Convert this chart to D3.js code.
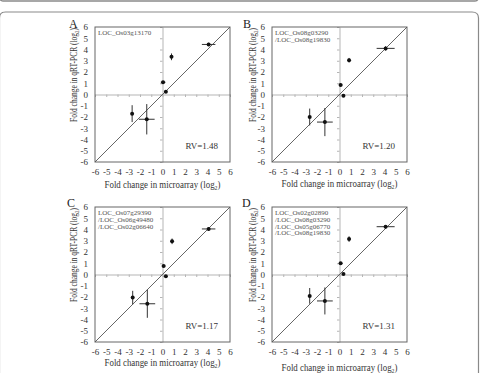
<!DOCTYPE html>
<html>
<head>
<meta charset="utf-8">
<script src="https://cdn.jsdelivr.net/npm/d3@7"></script>
<style>
  html, body { margin: 0; padding: 0; background: #fff; }
  svg { display: block; font-family: "Liberation Serif", "Times New Roman", serif; }
</style>
</head>
<body>
<div id="chart"></div>
<script>
// panel data: microarray (x) vs qRT-PCR (y), log2 fold change
const panelLetters = ["A", "B", "C", "D"];
const geneLabels = [
  ["LOC_Os03g13170"],
  ["LOC_Os08g03290", "/LOC_Os08g19830"],
  ["LOC_Os07g29390", "/LOC_Os06g49480", "/LOC_Os02g06640"],
  ["LOC_Os02g02890", "/LOC_Os08g03290", "/LOC_Os05g06770", "/LOC_Os08g19830"]
];
const rvValues = ["1.48", "1.20", "1.17", "1.31"];

const microarray = [
  [4.1, 0.8, 0.05, 0.3, -2.7, -1.4],
  [4.1, 0.85, 0.1, 0.35, -2.65, -1.3],
  [4.1, 0.85, 0.1, 0.3, -2.65, -1.35],
  [4.1, 0.85, 0.1, 0.35, -2.65, -1.3]
];
const microarrayErr = [
  [0.6, 0.1, 0.2, 0.1, 0.1, 0.7],
  [0.8, 0.1, 0.15, 0.1, 0.1, 0.7],
  [0.6, 0.1, 0.15, 0.1, 0.1, 0.7],
  [0.8, 0.1, 0.15, 0.1, 0.1, 0.7]
];
const qrtpcr = [
  [4.45, 3.35, 1.1, 0.25, -1.7, -2.2],
  [4.1, 3.05, 0.85, -0.1, -2.0, -2.45],
  [4.05, 2.95, 0.75, -0.15, -2.05, -2.6],
  [4.25, 3.15, 1.0, 0.05, -1.9, -2.35]
];
const qrtpcrErr = [
  [0.15, 0.3, 0.1, 0.1, 0.75, 1.35],
  [0.2, 0.2, 0.1, 0.1, 0.75, 1.25],
  [0.15, 0.25, 0.1, 0.1, 0.6, 1.25],
  [0.15, 0.25, 0.1, 0.1, 0.7, 1.2]
];
const tickValues = [-6, -5, -4, -3, -2, -1, 0, 1, 2, 3, 4, 5, 6];

// layout
const width = 480, height = 373;
const size = 135;
const panelPos = [[95, 27], [272, 27], [95, 207], [272, 207]];
const xTitleY = [188, 187, 366, 370.5];
const letterPos = [[-26, 1], [-29, 1], [-28, 0], [-30, 0]];
const yTitleX = [-18.5, -16, -18.5, -16];

const svg = d3.select("#chart").append("svg")
  .attr("width", width)
  .attr("height", height)
  .attr("viewBox", [0, 0, width, height]);

// frame lines of the page
svg.append("path")
  .attr("d", "M0,-10 L0,-2 Q0,1 3,1 L475,1 Q478,1 478,-2 L478,-10")
  .attr("fill", "none").attr("stroke", "#8a8a8a").attr("stroke-width", 1.5);
svg.append("path")
  .attr("d", "M-0.5,400 L-0.5,18 Q-0.5,12 5.5,12 L472,12 Q478.5,12 478.5,18 L478.5,400")
  .attr("fill", "none").attr("stroke", "#8a8a8a").attr("stroke-width", 1.2);

const x = d3.scaleLinear().domain([-6, 6]).range([0, size]);
const y = d3.scaleLinear().domain([-6, 6]).range([size, 0]);
const fmt = d => String(d); // plain hyphen minus, as in the figure

// title with subscript 2, squeezed along its length to a target width
function title(g, label, cx, cy, rotate, target, fontSize) {
  const outer = g.append("g").attr("transform", `translate(${cx},${cy}) rotate(${rotate})`);
  const t = outer.append("text")
    .attr("text-anchor", "middle").attr("font-size", fontSize).attr("fill", "#333");
  t.append("tspan").text(label + " (log");
  t.append("tspan").attr("font-size", fontSize * 0.65).attr("dy", 2).text("2");
  t.append("tspan").attr("dy", -2).text(")");
  const w = t.node().getBBox().width;
  t.attr("transform", `scale(${target / w},1)`);
}

panelLetters.forEach((letter, i) => {
  const [px, py] = panelPos[i];
  const g = svg.append("g").attr("transform", `translate(${px},${py})`);

  // zero axes with small ticks
  g.append("g")
    .attr("transform", `translate(0,${y(0)})`)
    .call(d3.axisBottom(x).tickValues(tickValues).tickSize(2.5).tickFormat("").tickSizeOuter(0))
    .call(a => a.selectAll("line, path").attr("stroke", "#b5b5b5"));
  g.append("g")
    .attr("transform", `translate(${x(0)},0)`)
    .call(d3.axisLeft(y).tickValues(tickValues).tickSize(2.5).tickFormat("").tickSizeOuter(0))
    .call(a => a.selectAll("line, path").attr("stroke", "#b5b5b5"));

  // tick labels along the box edges
  g.append("g")
    .attr("transform", `translate(0,${size})`)
    .call(d3.axisBottom(x).tickValues(tickValues).tickFormat(fmt).tickSize(0).tickPadding(7))
    .call(a => a.select(".domain").remove())
    .call(a => a.selectAll("text")
      .attr("font-family", "Liberation Serif").attr("font-size", 9).attr("fill", "#333"));
  g.append("g")
    .call(d3.axisLeft(y).tickValues(tickValues).tickFormat(fmt).tickSize(0).tickPadding(7))
    .call(a => a.select(".domain").remove())
    .call(a => a.selectAll("text")
      .attr("font-family", "Liberation Serif").attr("font-size", 9).attr("fill", "#333"));

  // plot box
  g.append("rect")
    .attr("width", size).attr("height", size)
    .attr("fill", "none").attr("stroke", "#666").attr("stroke-width", 1);

  // 1:1 line
  g.append("line")
    .attr("x1", x(-6)).attr("y1", y(-6))
    .attr("x2", x(6)).attr("y2", y(6))
    .attr("stroke", "#555").attr("stroke-width", 0.9);

  const pts = microarray[i].map((v, j) => ({
    x: v, y: qrtpcr[i][j], ex: microarrayErr[i][j], ey: qrtpcrErr[i][j]
  }));

  // error bars
  g.append("g").attr("stroke", "#333").attr("stroke-width", 1)
    .selectAll("line").data(pts).join("line")
    .attr("x1", d => x(d.x - d.ex)).attr("x2", d => x(d.x + d.ex))
    .attr("y1", d => y(d.y)).attr("y2", d => y(d.y));
  g.append("g").attr("stroke", "#333").attr("stroke-width", 1)
    .selectAll("line").data(pts).join("line")
    .attr("x1", d => x(d.x)).attr("x2", d => x(d.x))
    .attr("y1", d => y(d.y - d.ey)).attr("y2", d => y(d.y + d.ey));

  // points
  g.append("g").attr("fill", "#111")
    .selectAll("circle").data(pts).join("circle")
    .attr("cx", d => x(d.x)).attr("cy", d => y(d.y)).attr("r", 2);

  // gene labels
  g.append("text")
    .attr("font-size", 7).attr("fill", "#555")
    .selectAll("tspan").data(geneLabels[i]).join("tspan")
    .attr("x", 3).attr("y", (d, k) => 8 + k * 6.8)
    .text(d => d);

  // RV
  g.append("text")
    .attr("x", size - 12).attr("y", size - 13)
    .attr("text-anchor", "end").attr("font-size", 9).attr("fill", "#333")
    .text(`RV=${rvValues[i]}`);

  // panel letter
  g.append("text")
    .attr("x", letterPos[i][0]).attr("y", letterPos[i][1])
    .attr("font-size", 12).attr("fill", "#222")
    .text(letter);

  // axis titles
  title(g, "Fold change in microarray", size / 2, xTitleY[i] - py, 0, 116, 9.5);
  title(g, "Fold change in qRT-PCR", yTitleX[i], 48, -90, 94, 10);
});
</script>
</body>
</html>
